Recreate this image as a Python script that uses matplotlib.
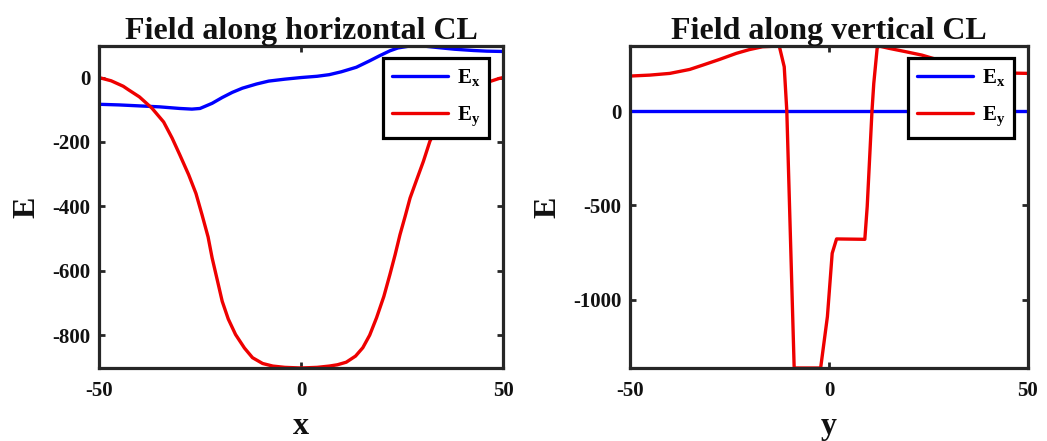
import matplotlib
matplotlib.use("Agg")
import matplotlib.pyplot as plt

# ---------------- data ----------------
# Left panel: field along horizontal centre line
h_x_ex = [-50, -45, -40, -35, -30, -27, -25, -22, -19.5, -17, -14.5, -11, -8, -4, 0,
          4, 7, 10, 13.7, 17, 19.5, 22, 24, 26.5, 28.5, 31, 34, 38, 42.7, 46, 50]
h_ex = [-83, -85, -88, -91, -96, -98, -96, -80, -62, -46, -33, -20, -11, -5, 0,
        4, 9, 18, 32, 52, 68, 83, 92, 97, 98, 97, 93, 88, 84, 82, 81]

h_x_ey = [-50, -47, -44, -42.7, -40, -36.9, -34, -31.9, -30, -27.8, -26, -24.5, -23, -22,
          -20.7, -19.5, -18, -16.2, -14, -12, -9.5, -7, -4, 0, 4, 7, 9, 11.2, 13.5, 15.3,
          17, 18.7, 20.5, 22, 23.3, 24.5, 25.8, 27, 28.7, 30.3, 31.9, 34, 36.9, 40, 42.7,
          44.5, 46.8, 49, 50]
h_ey = [0, -10, -27, -38, -60, -95, -138, -188, -240, -302, -360, -426, -495, -560,
        -630, -695, -750, -798, -840, -870, -888, -896, -900, -902, -900, -896, -892, -884, -865, -839,
        -800, -746, -680, -612, -550, -488, -430, -374, -315, -260, -198, -145, -95, -60, -38,
        -24, -12, -3, 0]

# Right panel: field along vertical centre line
v_y_ex = [-50, 50]
v_ex = [0, 0]

v_y_ey = [-50, -45, -40, -35, -31.7, -27.5, -23.3, -20, -16.7, -12.5, -11.25, -10.6, -8.75,
          -2.1, -0.4, 0.8, 1.9, 9.0, 9.6, 10.8, 11.25, 12.1, 12.5, 15, 19, 23.3, 27.5, 31.7,
          36, 40, 45, 50]
v_ey = [185, 190, 199, 220, 243, 273, 305, 325, 340, 344, 234, 0, -1360,
        -1360, -1088, -753, -677, -679, -506, 0, 146, 332, 344, 332, 315, 296, 270, 243,
        222, 208, 201, 199]

titles = ["Field along horizontal CL", "Field along vertical CL"]
xlabels = ["x", "y"]
ylabel = "E"
legend_labels = [r"$\mathrm{E_x}$", r"$\mathrm{E_y}$"]
xticks = [-50, 0, 50]
yticks_left = [-800, -600, -400, -200, 0]
yticks_right = [-1000, -500, 0]

# ---------------- style ----------------
plt.rcParams["font.family"] = ["Liberation Serif", "DejaVu Serif"]
plt.rcParams["font.weight"] = "bold"
plt.rcParams["mathtext.fontset"] = "custom"
plt.rcParams["mathtext.rm"] = "Liberation Serif:bold"
plt.rcParams["mathtext.it"] = "Liberation Serif:bold"
plt.rcParams["mathtext.bf"] = "Liberation Serif:bold"
plt.rcParams["axes.unicode_minus"] = False

BLUE = "#0000ff"
RED = "#ee0000"
DARK = "#262626"
TXT = "#111111"

fig = plt.figure(figsize=(10.47, 4.41), dpi=100)
ax1 = fig.add_axes([99 / 1047, 1 - 368 / 441, 404 / 1047, 322 / 441])
ax2 = fig.add_axes([630 / 1047, 1 - 368 / 441, 398 / 1047, 322 / 441])

panels = [
    (ax1, h_x_ex, h_ex, h_x_ey, h_ey, yticks_left),
    (ax2, v_y_ex, v_ex, v_y_ey, v_ey, yticks_right),
]

for i, (ax, xe, ye, xy, yy, yt) in enumerate(panels):
    l1, = ax.plot(xe, ye, color=BLUE, lw=2.4, solid_joinstyle="round", solid_capstyle="round")
    l2, = ax.plot(xy, yy, color=RED, lw=2.4, solid_joinstyle="round", solid_capstyle="round")
    ax.set_xlim(-50, 50)
    ymin = min(min(ye), min(yy))
    ymax = max(max(ye), max(yy))
    ax.set_ylim(ymin, ymax)
    ax.set_xticks(xticks)
    ax.set_yticks(yt)
    ax.tick_params(direction="in", length=4, width=2, top=True, right=True,
                   labelsize=15, colors=DARK, labelcolor=TXT)
    ax.tick_params(axis="x", pad=9)
    ax.tick_params(axis="y", pad=6)
    for lab in ax.get_xticklabels() + ax.get_yticklabels():
        lab.set_fontweight("bold")
    for sp in ax.spines.values():
        sp.set_linewidth(2.3)
        sp.set_color(DARK)
    ax.set_title(titles[i], fontsize=23, fontweight="bold", pad=5, color=TXT)
    ax.set_xlabel(xlabels[i], fontsize=23, fontweight="bold", labelpad=8, color=TXT)
    ax.set_ylabel(ylabel, fontsize=23, fontweight="bold", labelpad=8, color=TXT)
    leg = ax.legend([l1, l2], legend_labels, loc="upper right",
                    bbox_to_anchor=(0.966, 0.963), borderaxespad=0,
                    fontsize=15, handlelength=2.7, handletextpad=0.4,
                    borderpad=0.45, labelspacing=0.8, fancybox=False,
                    framealpha=1, edgecolor="black")
    leg.get_frame().set_linewidth(2.3)

fig.savefig("out.png", dpi=100)
